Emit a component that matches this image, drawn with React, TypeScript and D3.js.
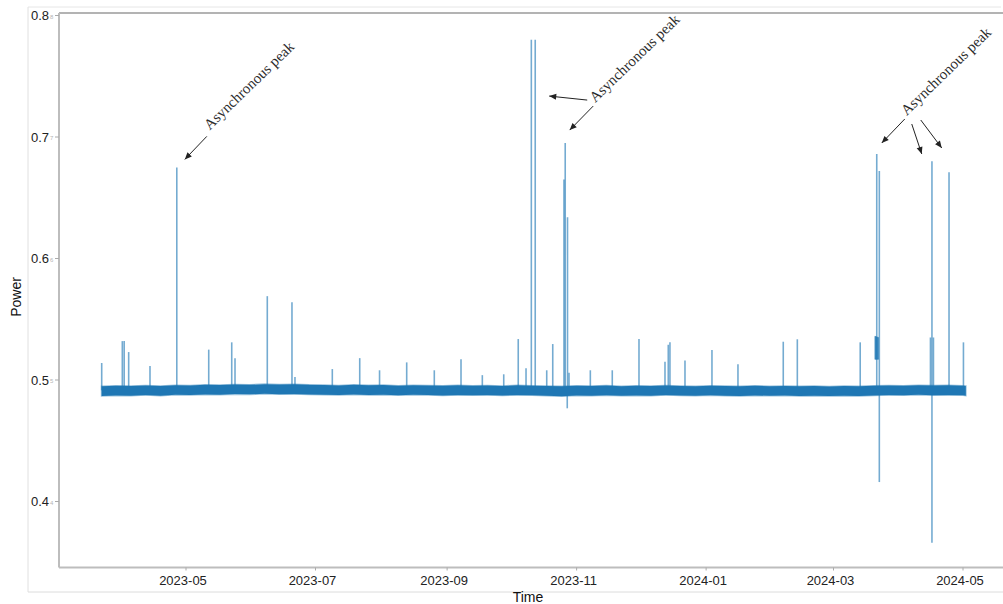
import React from "react";
import * as d3 from "d3";

const W = 1003;
const H = 604;

// Weekly envelope of the steady power signal (upper / lower edge of the noise band)
const bandDates = [
  "2023-03-22T06:00", "2023-03-29T00:00", "2023-04-05T00:00", "2023-04-12T00:00", "2023-04-19T00:00",
  "2023-04-26T00:00", "2023-05-03T00:00", "2023-05-10T00:00", "2023-05-17T00:00", "2023-05-24T00:00",
  "2023-05-31T00:00", "2023-06-07T00:00", "2023-06-14T00:00", "2023-06-21T00:00", "2023-06-28T00:00",
  "2023-07-05T00:00", "2023-07-12T00:00", "2023-07-19T00:00", "2023-07-26T00:00", "2023-08-02T00:00",
  "2023-08-09T00:00", "2023-08-16T00:00", "2023-08-23T00:00", "2023-08-30T00:00", "2023-09-06T00:00",
  "2023-09-13T00:00", "2023-09-20T00:00", "2023-09-27T00:00", "2023-10-04T00:00", "2023-10-11T00:00",
  "2023-10-18T00:00", "2023-10-25T00:00", "2023-11-01T00:00", "2023-11-08T00:00", "2023-11-15T00:00",
  "2023-11-22T00:00", "2023-11-29T00:00", "2023-12-06T00:00", "2023-12-13T00:00", "2023-12-20T00:00",
  "2023-12-27T00:00", "2024-01-03T00:00", "2024-01-10T00:00", "2024-01-17T00:00", "2024-01-24T00:00",
  "2024-01-31T00:00", "2024-02-07T00:00", "2024-02-14T00:00", "2024-02-21T00:00", "2024-02-28T00:00",
  "2024-03-06T00:00", "2024-03-13T00:00", "2024-03-20T00:00", "2024-03-27T00:00", "2024-04-03T00:00",
  "2024-04-10T00:00", "2024-04-17T00:00", "2024-04-24T00:00", "2024-05-01T00:00", "2024-05-02T08:00",
];
const bandUpper = [
  0.4948, 0.4952, 0.495, 0.4955, 0.495, 0.4957, 0.4955, 0.496, 0.4958, 0.4963,
  0.496, 0.4966, 0.4962, 0.4965, 0.496, 0.4958, 0.4955, 0.496, 0.4956, 0.4958,
  0.4953, 0.4957, 0.4955, 0.4952, 0.4956, 0.4953, 0.4955, 0.4951, 0.4956, 0.4953,
  0.495, 0.4948, 0.4952, 0.495, 0.4954, 0.4949, 0.4952, 0.495, 0.4955, 0.4951,
  0.4949, 0.4953, 0.495, 0.4948, 0.4952, 0.4949, 0.4951, 0.4948, 0.495, 0.4947,
  0.495, 0.4948, 0.4952, 0.4955, 0.4953, 0.4957, 0.4954, 0.4956, 0.4953, 0.495,
];
const bandLower = [
  0.4868, 0.4872, 0.487, 0.4876, 0.4871, 0.4878, 0.4876, 0.4881, 0.4879, 0.4884,
  0.4882, 0.4887, 0.4883, 0.4885, 0.4881, 0.4879, 0.4877, 0.4881, 0.4877, 0.4879,
  0.4874, 0.4878, 0.4876, 0.4873, 0.4877, 0.4874, 0.4876, 0.4872, 0.4877, 0.4874,
  0.4871, 0.4866, 0.4873, 0.4871, 0.4875, 0.487, 0.4873, 0.4871, 0.4876, 0.4872,
  0.487, 0.4874, 0.4871, 0.4869, 0.4873, 0.487, 0.4872, 0.4869, 0.4871, 0.4868,
  0.4871, 0.4869, 0.4873, 0.4876, 0.4874, 0.4878, 0.4875, 0.4877, 0.4874, 0.4871,
];
const baseLevel = 0.4915;

// Individual spikes (and dips) leaving the steady level
const spikeDates = [
  "2023-03-22T07:00", "2023-04-01T00:00", "2023-04-01T21:00", "2023-04-04T00:00", "2023-04-14T01:00",
  "2023-04-26T16:00", "2023-05-11T17:00", "2023-05-22T13:00", "2023-05-24T02:00", "2023-06-08T07:00",
  "2023-06-19T22:00", "2023-06-21T08:00", "2023-07-08T22:00", "2023-07-21T20:00", "2023-07-31T04:00",
  "2023-08-12T23:00", "2023-08-25T23:00", "2023-09-07T13:00", "2023-09-17T14:00", "2023-09-27T16:00",
  "2023-10-04T12:00", "2023-10-08T04:00", "2023-10-10T16:00", "2023-10-12T12:00", "2023-10-17T22:00",
  "2023-10-20T18:00", "2023-10-26T01:00", "2023-10-26T15:00", "2023-10-27T14:00", "2023-10-27T17:00",
  "2023-10-28T10:00", "2023-11-07T11:00", "2023-11-17T19:00", "2023-11-30T09:00", "2023-12-12T15:00",
  "2023-12-14T04:00", "2023-12-14T23:00", "2023-12-22T01:00", "2024-01-03T18:00", "2024-01-16T00:00",
  "2024-02-06T08:00", "2024-02-12T23:00", "2024-03-13T14:00", "2024-03-21T09:00", "2024-03-22T14:00",
  "2024-03-22T14:00", "2024-04-15T16:00", "2024-04-16T09:00", "2024-04-16T09:00", "2024-04-17T02:00",
  "2024-04-24T10:00", "2024-05-01T05:00",
];
const spikeValues = [
  0.514, 0.532, 0.532, 0.523, 0.5115,
  0.675, 0.525, 0.531, 0.518, 0.569,
  0.564, 0.5025, 0.509, 0.518, 0.508,
  0.5145, 0.508, 0.517, 0.504, 0.5047,
  0.5337, 0.5096, 0.78, 0.78, 0.508,
  0.5296, 0.665, 0.695, 0.4767, 0.634,
  0.506, 0.508, 0.508, 0.5337, 0.515,
  0.529, 0.531, 0.516, 0.5247, 0.513,
  0.5315, 0.5335, 0.531, 0.686, 0.672,
  0.416, 0.535, 0.68, 0.366, 0.535,
  0.671, 0.531,
];

// Short period where the level sat higher
const shiftDates = ["2024-03-20T12:00", "2024-03-22T05:00"];
const shiftLow = [0.517, 0.517];
const shiftHigh = [0.536, 0.535];

const yTicks = [0.4, 0.5, 0.6, 0.7, 0.8];
const xTickDates = ["2023-05-01T00:00", "2023-07-01T00:00", "2023-09-01T00:00", "2023-11-01T00:00", "2024-01-01T00:00", "2024-03-01T00:00", "2024-05-01T00:00"];
const xTickLabels = ["2023-05", "2023-07", "2023-09", "2023-11", "2024-01", "2024-03", "2024-05"];

// Annotation groups: anchored at a spike, offsets in px
const annoText = "Asynchronous peak";
const annoAnchorDates = ["2023-04-26T16:00", "2023-10-26T15:00", "2024-03-21T09:00"];
const annoAnchorValues = [0.675, 0.695, 0.686];
const annoTextOffsets = [[33, -37], [30, -40], [30, -38]];
const annoArrows = [
  [[[30, -31], [8, -8]]],
  [[[22, -43], [-16, -47]], [[28, -37], [4.5, -13]]],
  [[[28, -35], [5, -11]], [[35, -30], [45, 0]], [[44, -34], [65, -6]]],
];

const parse = d3.timeParse("%Y-%m-%dT%H:%M");

export default function App() {
  const plot = { left: 59, top: 13, right: W, bottom: 567.5 };

  const x = d3
    .scaleTime()
    .domain([parse("2023-05-01T00:00")!, parse("2024-05-01T00:00")!])
    .range([186, 963]);
  const y = d3.scaleLinear().domain([0.4, 0.8]).range([501.5, 15.5]);

  const band = bandDates.map((d, i) => ({ t: parse(d)!, hi: bandUpper[i], lo: bandLower[i] }));
  const areaGen = d3
    .area<{ t: Date; hi: number; lo: number }>()
    .x((d) => x(d.t))
    .y0((d) => y(d.lo))
    .y1((d) => y(d.hi));
  const bandPath = areaGen(band) || "";

  const shift = shiftDates.map((d, i) => ({ t: parse(d)!, hi: shiftHigh[i], lo: shiftLow[i] }));
  const shiftPath = areaGen(shift) || "";

  const blue = "#1f77b4";
  const tickColor = "#222";

  const arrowHead = (x1: number, y1: number, x2: number, y2: number) => {
    const a = Math.atan2(y2 - y1, x2 - x1);
    const len = 7;
    const w = 3;
    const bx = x2 - len * Math.cos(a);
    const by = y2 - len * Math.sin(a);
    const px = -Math.sin(a) * w;
    const py = Math.cos(a) * w;
    return `M${x2},${y2}L${bx + px},${by + py}L${bx - px},${by - py}Z`;
  };

  return (
    <svg
      width={W}
      height={H}
      style={{ position: "absolute", left: 0, top: 0, background: "#fff" }}
      fontFamily="'Liberation Sans', Arial, sans-serif"
    >
      <defs>
        <clipPath id="plotClip">
          <rect x={plot.left} y={plot.top} width={plot.right - plot.left} height={plot.bottom - plot.top} />
        </clipPath>
      </defs>

      {/* outer frame */}
      <line x1={28} y1={7} x2={1001} y2={7} stroke="#e6e6e6" strokeWidth={1} />
      <line x1={28} y1={7} x2={28} y2={592} stroke="#e0e0e0" strokeWidth={1} />
      <line x1={28} y1={592} x2={W} y2={592} stroke="#dcdcdc" strokeWidth={1} />

      {/* spines */}
      <line x1={plot.left} y1={plot.top} x2={plot.right} y2={plot.top} stroke="#9a9a9a" strokeWidth={1.3} />
      <line x1={plot.left} y1={plot.top} x2={plot.left} y2={plot.bottom} stroke="#bdbdbd" strokeWidth={2} />
      <line x1={plot.left} y1={plot.bottom} x2={plot.right} y2={plot.bottom} stroke="#bdbdbd" strokeWidth={2} />

      {/* y ticks */}
      {yTicks.map((t) => (
        <g key={t}>
          <line x1={55} x2={59} y1={y(t)} y2={y(t)} stroke="#aaa" strokeWidth={1} />
          <text x={49} y={y(t) + 4.5} textAnchor="end" fontSize={13} fill={tickColor}>
            {t.toFixed(1)}
          </text>
          <text x={50} y={y(t) + 3} fontSize={6} fill="#b5b5b5">
            {t.toFixed(1).slice(-1)}
          </text>
        </g>
      ))}

      {/* x ticks */}
      {xTickDates.map((d, i) => {
        const px = x(parse(d)!);
        return (
          <g key={d}>
            <line x1={px} x2={px} y1={plot.bottom} y2={plot.bottom + 3} stroke="#aaa" strokeWidth={1} />
            <text x={px - 3} y={585} textAnchor="middle" fontSize={13} fill={tickColor}>
              {xTickLabels[i]}
            </text>
          </g>
        );
      })}

      {/* axis titles */}
      <text x={528} y={602} textAnchor="middle" fontSize={14} fill="#111">
        Time
      </text>
      <text transform="translate(21,297) rotate(-90)" textAnchor="middle" fontSize={14} fill="#111">
        Power
      </text>

      <g clipPath="url(#plotClip)">
        {/* spikes */}
        {spikeDates.map((d, i) => {
          const px = x(parse(d)!);
          return (
            <line
              key={i}
              x1={px}
              x2={px}
              y1={y(baseLevel)}
              y2={y(spikeValues[i])}
              stroke={blue}
              strokeWidth={1.6}
              strokeOpacity={0.62}
            />
          );
        })}
        {/* steady band */}
        <path d={bandPath} fill={blue} stroke={blue} strokeWidth={1.6} strokeOpacity={0.45} />
        <path d={shiftPath} fill={blue} fillOpacity={0.85} stroke={blue} strokeOpacity={0.5} strokeWidth={1} />
      </g>

      {/* annotations */}
      {annoAnchorDates.map((d, g) => {
        const ax = x(parse(d)!);
        const ay = y(annoAnchorValues[g]);
        const [tx, ty] = annoTextOffsets[g];
        return (
          <g key={g}>
            {annoArrows[g].map(([[x1, y1], [x2, y2]], k) => {
              const sx = ax + x1;
              const sy = ay + y1;
              const ex = ax + x2;
              const ey = ay + y2;
              return (
                <g key={k}>
                  <line x1={sx} y1={sy} x2={ex} y2={ey} stroke="#222" strokeWidth={1} />
                  <path d={arrowHead(sx, sy, ex, ey)} fill="#222" />
                </g>
              );
            })}
            <text
              transform={`translate(${ax + tx},${ay + ty}) rotate(-44)`}
              fontFamily="'Liberation Serif', 'Times New Roman', serif"
              fontSize={15}
              fill="#2a2a2a"
            >
              {annoText}
            </text>
          </g>
        );
      })}
    </svg>
  );
}
